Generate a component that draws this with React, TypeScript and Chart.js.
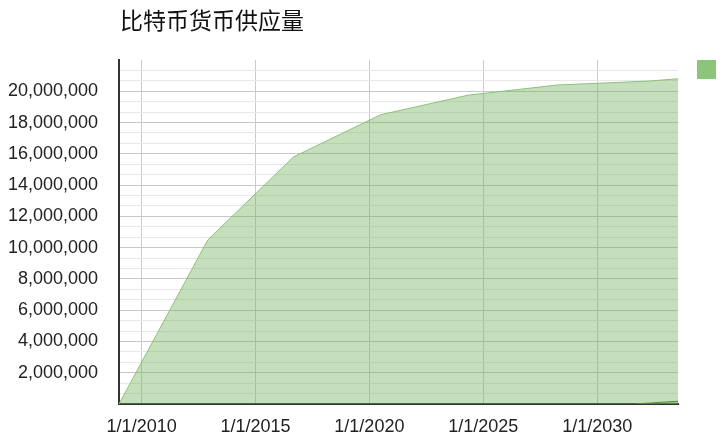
import React, { useEffect, useRef } from 'react';
import { Chart, registerables } from 'chart.js';

Chart.register(...registerables);

// bitcoin supply
const supplyDates = ['2009-01-03', '2012-11-28', '2016-09-01', '2020-07-01', '2024-05-01', '2028-04-01', '2032-04-01', '2033-07-20'];
const supplyValues = [0, 10500000, 15800000, 18500000, 19750000, 20400000, 20650000, 20800000];

// small second series, only visible at the bottom right
const minedDates = ['2031-09-01', '2033-07-20'];
const minedValues = [0, 180000];

const xTickYears = [2010, 2015, 2020, 2025, 2030];
const yMax = 22000000;
const yMajorStep = 2000000;
const yMinorPerMajor = 3;

const title = '比特币货币供应量';

const toMs = (d: string) => {
  const [y, m, day] = d.split('-').map(Number);
  return Date.UTC(y, m - 1, day);
};

const titlePlugin = {
  id: 'leftTitle',
  afterDraw(chart: Chart) {
    const { ctx, chartArea } = chart;
    ctx.save();
    ctx.font = '23px "Noto Sans CJK SC"';
    ctx.fillStyle = '#111111';
    ctx.textBaseline = 'middle';
    ctx.textAlign = 'left';
    ctx.fillText(title, chartArea.left + 1, 20);
    ctx.restore();
  }
};

const legendPlugin = {
  id: 'squareLegend',
  afterDraw(chart: Chart) {
    const { ctx, chartArea } = chart;
    ctx.save();
    ctx.fillStyle = '#8cc57a';
    ctx.fillRect(chartArea.right + 19, chartArea.top, 19, 19);
    ctx.restore();
  }
};

export default function App() {
  const canvasRef = useRef<HTMLCanvasElement>(null);
  const chartRef = useRef<Chart | null>(null);

  useEffect(() => {
    if (!canvasRef.current) return;
    if (chartRef.current) chartRef.current.destroy();

    const supply = supplyDates.map((d, i) => ({ x: toMs(d), y: supplyValues[i] }));
    const mined = minedDates.map((d, i) => ({ x: toMs(d), y: minedValues[i] }));
    const step = yMajorStep / yMinorPerMajor;
    const nSteps = Math.round(yMax / step);

    chartRef.current = new Chart(canvasRef.current, {
      type: 'line',
      data: {
        datasets: [
          {
            label: title,
            data: supply,
            borderColor: '#8bc279',
            backgroundColor: 'rgba(109,176,88,0.4)',
            borderWidth: 1,
            pointRadius: 0,
            tension: 0,
            fill: 'origin'
          },
          {
            label: 'mined',
            data: mined,
            borderColor: '#3f7a2e',
            backgroundColor: 'rgba(80,150,60,0.45)',
            borderWidth: 1,
            pointRadius: 0,
            tension: 0,
            fill: 'origin'
          }
        ]
      },
      options: {
        animation: false,
        responsive: true,
        maintainAspectRatio: false,
        layout: { padding: { top: 60, right: 48, bottom: 0, left: 0 } },
        scales: {
          x: {
            type: 'linear',
            min: toMs(supplyDates[0]),
            max: toMs(supplyDates[supplyDates.length - 1]),
            afterBuildTicks: (scale: any) => {
              scale.ticks = xTickYears.map(y => ({ value: Date.UTC(y, 0, 1) }));
            },
            afterFit: (scale: any) => {
              scale.height = 41;
            },
            grid: { color: '#cccccc', lineWidth: 1, drawTicks: false },
            border: { color: '#333333', width: 2 },
            ticks: {
              autoSkip: false,
              maxRotation: 0,
              padding: 12,
              color: '#222222',
              font: { family: '"Liberation Sans", Arial', size: 18 },
              callback: (v: any) => '1/1/' + new Date(v).getUTCFullYear()
            }
          },
          y: {
            min: 0,
            max: yMax,
            afterBuildTicks: (scale: any) => {
              scale.ticks = Array.from({ length: nSteps + 1 }, (_, i) => ({ value: i * step }));
            },
            afterFit: (scale: any) => {
              scale.width = 119;
            },
            grid: {
              drawTicks: false,
              color: (c: any) => {
                if (c.index === 0 || c.index === nSteps) return 'rgba(0,0,0,0)';
                return c.index % yMinorPerMajor === 0 ? '#c8c8c8' : '#e8e8e8';
              }
            },
            border: { color: '#333333', width: 2 },
            ticks: {
              autoSkip: false,
              padding: 21,
              color: '#222222',
              font: { family: '"Liberation Sans", Arial', size: 18 },
              callback: function (v: any, i: number) {
                if (i % yMinorPerMajor !== 0 || i === 0 || i === nSteps) return '';
                return Number(v).toLocaleString('en-US', { maximumFractionDigits: 0 });
              }
            }
          }
        },
        plugins: {
          legend: { display: false },
          title: { display: false },
          tooltip: { enabled: false }
        }
      },
      plugins: [titlePlugin, legendPlugin]
    });

    return () => {
      if (chartRef.current) {
        chartRef.current.destroy();
        chartRef.current = null;
      }
    };
  }, []);

  return (
    <div style={{ position: 'fixed', left: 0, top: 0, width: 726, height: 445, background: '#ffffff' }}>
      <canvas ref={canvasRef} />
    </div>
  );
}
